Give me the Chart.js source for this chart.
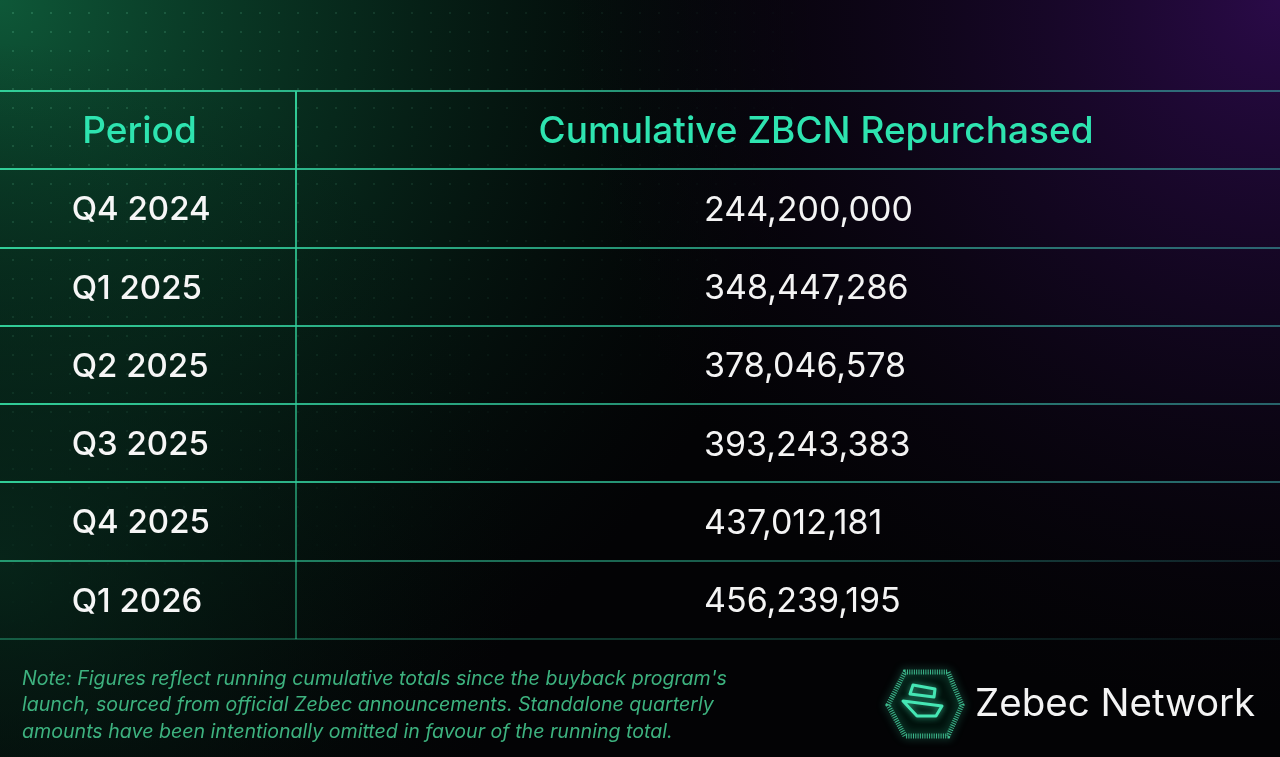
<!DOCTYPE html>
<html>
<head>
<meta charset="utf-8">
<script src="https://cdn.jsdelivr.net/npm/chart.js@4.4.1/dist/chart.umd.min.js"></script>
<style>
    html, body { margin: 0; padding: 0; background: #030305; overflow: hidden; }
    #tabela { display: block; }
</style>
</head>
<body>
<canvas id="tabela" width="1280" height="757"></canvas>
<script>
// ===== DADOS =====
const CABECALHOS = ['Period', 'Cumulative ZBCN Repurchased'];
const PERIODOS   = ['Q4 2024', 'Q1 2025', 'Q2 2025', 'Q3 2025', 'Q4 2025', 'Q1 2026'];
const RECOMPRAS  = [244200000, 348447286, 378046578, 393243383, 437012181, 456239195];
const NOTA = [
    "Note: Figures reflect running cumulative totals since the buyback program's",
    'launch, sourced from official Zebec announcements. Standalone quarterly',
    'amounts have been intentionally omitted in favour of the running total.'
];
const MARCA = 'Zebec Network';

// ===== LAYOUT =====
const DIVISOR      = 0.231;   // coluna divisória (fração da largura)
const X_CAB        = [0.109, 0.6375];
const X_PERIODO    = 0.056;
const X_VALOR      = 0.55;
const TOTAL_LINHAS = PERIODOS.length + 1;

function formatarNumero(v) {
    return v.toLocaleString('en-US');
}

// ===== FUNDO =====
const fundoPlugin = {
    id: 'fundo',
    beforeDraw(chart) {
        const { ctx, width, height } = chart;
        ctx.save();
        ctx.fillStyle = '#030305';
        ctx.fillRect(0, 0, width, height);

        let g = ctx.createRadialGradient(0, 0, 0, 0, 0, 820);
        g.addColorStop(0, 'rgba(14,88,56,1)');
        g.addColorStop(0.45, 'rgba(8,50,33,0.75)');
        g.addColorStop(1, 'rgba(4,20,14,0)');
        ctx.fillStyle = g;
        ctx.fillRect(0, 0, width, height);

        g = ctx.createRadialGradient(0, 560, 0, 0, 560, 520);
        g.addColorStop(0, 'rgba(8,44,30,0.7)');
        g.addColorStop(1, 'rgba(4,20,14,0)');
        ctx.fillStyle = g;
        ctx.fillRect(0, 0, width, height);

        g = ctx.createRadialGradient(width, 0, 0, width, 0, 720);
        g.addColorStop(0, 'rgba(42,10,72,1)');
        g.addColorStop(0.5, 'rgba(22,7,38,0.65)');
        g.addColorStop(1, 'rgba(10,4,16,0)');
        ctx.fillStyle = g;
        ctx.fillRect(0, 0, width, height);

        // grade de pontos
        for (let y = 12; y < height; y += 19) {
            for (let x = 12; x < width; x += 19) {
                const d = Math.hypot(x, y * 1.3);
                const a = 0.2 * Math.max(0, 1 - d / 850);
                if (a <= 0.01) continue;
                ctx.fillStyle = `rgba(120,230,180,${a})`;
                ctx.fillRect(x, y, 2, 2);
            }
        }
        ctx.restore();
    }
};

// ===== TEXTOS DAS CÉLULAS =====
const celulasPlugin = {
    id: 'celulas',
    afterDatasetsDraw(chart) {
        const ctx = chart.ctx;
        ctx.save();
        ctx.textBaseline = 'middle';
        chart.data.datasets.forEach((ds, i) => {
            const meta = chart.getDatasetMeta(i);
            ctx.font      = ds.fonte;
            ctx.fillStyle = ds.corTexto;
            ctx.textAlign = ds.alinhamento;
            meta.data.forEach((pt, j) => {
                ctx.fillText(ds.textos[j], pt.x, pt.y + ds.ajusteY);
            });
        });
        ctx.restore();
    }
};

// ===== NOTA E MARCA =====
const rodapePlugin = {
    id: 'rodape',
    afterDraw(chart) {
        const ctx = chart.ctx;
        ctx.save();

        ctx.font = 'italic 400 19.6px Inter';
        ctx.fillStyle = '#3db27f';
        ctx.textBaseline = 'middle';
        ctx.textAlign = 'left';
        NOTA.forEach((l, i) => ctx.fillText(l, 22, 679 + i * 26.5));

        // hexágono
        const hx = [[888, 705], [905, 672], [948, 672], [962, 705], [948, 736], [905, 736]];
        ctx.beginPath();
        hx.forEach(([x, y], i) => i ? ctx.lineTo(x, y) : ctx.moveTo(x, y));
        ctx.closePath();
        ctx.fillStyle = '#02120d';
        ctx.fill();
        ctx.shadowColor = 'rgba(60,220,170,0.8)';
        ctx.shadowBlur = 8;
        ctx.strokeStyle = 'rgba(70,210,160,0.85)';
        ctx.lineWidth = 5;
        ctx.setLineDash([1, 1.3]);
        ctx.stroke();
        ctx.setLineDash([]);

        ctx.shadowBlur = 6;
        ctx.strokeStyle = '#45e6b4';
        ctx.lineWidth = 3;
        ctx.lineJoin = 'round';
        ctx.lineCap = 'round';
        ctx.beginPath();
        ctx.moveTo(913, 685); ctx.lineTo(935, 689); ctx.lineTo(934, 697); ctx.lineTo(910, 694); ctx.closePath();
        ctx.stroke();
        ctx.beginPath();
        ctx.moveTo(903, 701); ctx.lineTo(942, 706); ctx.lineTo(936, 716); ctx.lineTo(917, 716); ctx.closePath();
        ctx.stroke();
        ctx.shadowBlur = 0;

        ctx.font = '400 38.5px Inter';
        ctx.fillStyle = '#f4f4f4';
        ctx.fillText(MARCA, 975, 704);
        ctx.restore();
    }
};

// ===== GRÁFICO (tabela) =====
const ctx = document.getElementById('tabela').getContext('2d');

function corLinhaH(c) {
    const v = c.tick ? c.tick.value : c.index;
    const forte = v <= 5 ? 0.95 : (v === 6 ? 0.65 : 0.35);
    const g = ctx.createLinearGradient(0, 0, 1280, 0);
    g.addColorStop(0, `rgba(52,214,158,${forte})`);
    g.addColorStop(0.5, `rgba(48,190,150,${forte * 0.8})`);
    g.addColorStop(1, `rgba(60,170,170,${forte * (v >= 6 ? 0.25 : 0.6)})`);
    return g;
}

function corLinhaV() {
    const g = ctx.createLinearGradient(0, 91, 0, 639);
    g.addColorStop(0, 'rgba(52,214,158,0.95)');
    g.addColorStop(1, 'rgba(40,170,125,0.55)');
    return g;
}

new Chart(ctx, {
    type: 'scatter',
    data: {
        datasets: [
            {
                data: CABECALHOS.map((c, i) => ({ x: X_CAB[i], y: 0.5 })),
                textos: CABECALHOS,
                fonte: '500 37px Inter',
                corTexto: '#2ee4b0',
                alinhamento: 'center',
                ajusteY: 2,
                pointRadius: 0
            },
            {
                data: PERIODOS.map((p, i) => ({ x: X_PERIODO, y: i + 1.5 })),
                textos: PERIODOS,
                fonte: '500 33px Inter',
                corTexto: '#f6f6f6',
                alinhamento: 'left',
                ajusteY: 2,
                pointRadius: 0
            },
            {
                data: RECOMPRAS.map((v, i) => ({ x: X_VALOR, y: i + 1.5 })),
                textos: RECOMPRAS.map(formatarNumero),
                fonte: '400 34px Inter',
                corTexto: '#f4f4f4',
                alinhamento: 'left',
                ajusteY: 2,
                pointRadius: 0
            }
        ]
    },
    options: {
        responsive: false,
        animation: false,
        devicePixelRatio: 1,
        layout: { padding: { top: 91, bottom: 118, left: 0, right: 0 } },
        plugins: { legend: { display: false }, tooltip: { enabled: false } },
        events: [],
        scales: {
            x: {
                type: 'linear',
                min: 0,
                max: 1,
                afterBuildTicks: s => { s.ticks = [{ value: DIVISOR }]; },
                ticks: { display: false },
                border: { display: false },
                grid: { color: corLinhaV, lineWidth: 2, drawTicks: false }
            },
            y: {
                type: 'linear',
                reverse: true,
                min: 0,
                max: TOTAL_LINHAS,
                ticks: { display: false, stepSize: 1 },
                border: { display: false },
                grid: { color: corLinhaH, lineWidth: 2, drawTicks: false }
            }
        }
    },
    plugins: [fundoPlugin, celulasPlugin, rodapePlugin]
});
</script>
</body>
</html>
